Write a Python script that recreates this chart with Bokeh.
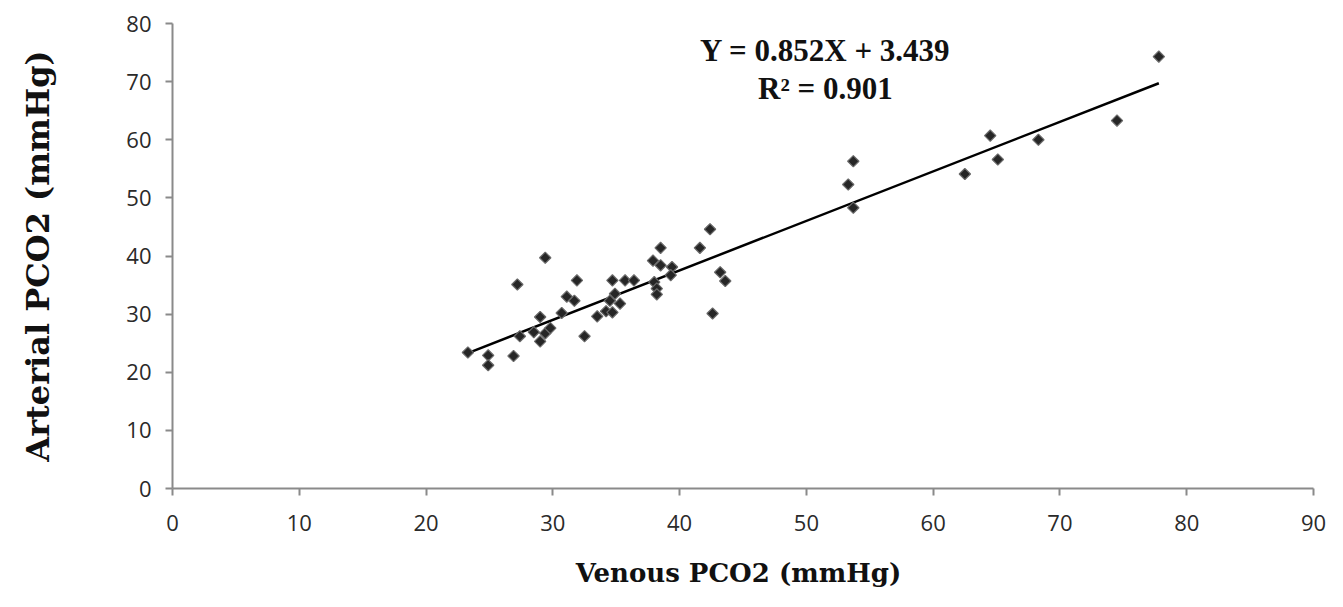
import math
from bokeh.plotting import figure
from bokeh.models import Range1d, Label, FixedTicker
from bokeh.embed import file_html
from bokeh.resources import INLINE

venous = [23.3, 24.9, 24.9, 26.9, 27.2, 27.4, 28.5, 29.0, 29.0, 29.4, 29.8, 29.4,
          30.7, 31.1, 31.7, 31.9, 32.5, 33.5, 34.2, 34.5, 34.7, 34.7, 34.9, 35.3,
          35.7, 36.4, 37.9, 38.5, 38.5, 38.0, 38.2, 38.2, 39.4, 39.3, 41.6, 42.4,
          42.6, 43.2, 43.6, 53.3, 53.7, 53.7, 62.5, 64.5, 65.1, 68.3, 74.5, 77.8]
arterial = [23.4, 22.9, 21.2, 22.8, 35.1, 26.2, 26.9, 29.5, 25.3, 26.7, 27.6, 39.7,
            30.2, 33.0, 32.3, 35.8, 26.2, 29.6, 30.5, 32.3, 30.3, 35.8, 33.5, 31.8,
            35.8, 35.8, 39.2, 41.4, 38.4, 35.5, 34.4, 33.4, 38.1, 36.7, 41.4, 44.6,
            30.1, 37.2, 35.7, 52.3, 56.3, 48.3, 54.1, 60.7, 56.6, 60.0, 63.3, 74.3]
slope = 0.852
intercept = 3.439
r_squared = 0.901
x_ticks = [0, 10, 20, 30, 40, 50, 60, 70, 80, 90]
y_ticks = [0, 10, 20, 30, 40, 50, 60, 70, 80]

p = figure(width=1327, height=591, output_backend="svg", toolbar_location=None,
           x_range=Range1d(0, 90), y_range=Range1d(0, 80),
           min_border_left=172, min_border_right=14, min_border_top=23, min_border_bottom=103)
p.outline_line_color = None
p.xgrid.visible = False
p.ygrid.visible = False

axis_col = "#8a8a8a"
for ax in (p.xaxis[0], p.yaxis[0]):
    ax.axis_line_color = axis_col
    ax.axis_line_width = 2
    ax.major_tick_line_color = axis_col
    ax.major_tick_line_width = 2
    ax.major_tick_out = 7
    ax.major_tick_in = 0
    ax.minor_tick_line_color = None
    ax.major_label_text_font = "Open Sans"
    ax.major_label_text_font_size = "22px"
    ax.major_label_text_color = "#2a2a2a"
    ax.axis_label_text_font = "DejaVu Serif"
    ax.axis_label_text_font_style = "bold"
    ax.axis_label_text_color = "#111111"

p.xaxis[0].ticker = FixedTicker(ticks=x_ticks)
p.yaxis[0].ticker = FixedTicker(ticks=y_ticks)
p.xaxis[0].major_label_standoff = 19
p.yaxis[0].major_label_standoff = 14
p.xaxis[0].axis_label = "Venous  PCO2 (mmHg)"
p.xaxis[0].axis_label_text_font_size = "26px"
p.xaxis[0].axis_label_standoff = 24
p.yaxis[0].axis_label = "Arterial PCO2 (mmHg)"
p.yaxis[0].axis_label_text_font_size = "32px"
p.yaxis[0].axis_label_standoff = 66

x0, x1 = min(venous), max(venous)
p.line([x0, x1], [slope * x0 + intercept, slope * x1 + intercept],
       line_color="black", line_width=2.5)

p.scatter(venous, arterial, marker="square", angle=math.pi / 4, size=8,
          fill_color="#262626", line_color="#6a6a6a", line_width=1.2)

eq1 = Label(x=51.5, y=75.4, text=f"Y = {slope}X + {intercept}", text_align="center",
            text_baseline="middle", text_font="Liberation Serif", text_font_style="bold",
            text_font_size="31px", text_color="#111111")
eq2 = Label(x=51.5, y=68.8, text=f"R\u00b2 = {r_squared}", text_align="center",
            text_baseline="middle", text_font="Liberation Serif", text_font_style="bold",
            text_font_size="31px", text_color="#111111")
p.add_layout(eq1)
p.add_layout(eq2)

open("out.html", "w").write(file_html(p, INLINE))
